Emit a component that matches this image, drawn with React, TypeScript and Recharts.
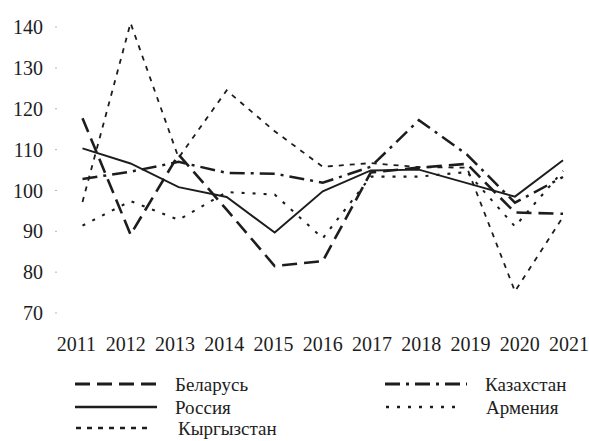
import { LineChart, Line, XAxis, YAxis, Legend } from "recharts";

const years = ["2011", "2012", "2013", "2014", "2015", "2016", "2017", "2018", "2019", "2020", "2021"];
const belarus = [117.7, 89.2, 108.8, 95.3, 81.5, 82.7, 104.4, 105.6, 106.5, 94.6, 94.3];
const russia = [110.3, 106.6, 100.8, 98.4, 89.7, 99.8, 104.9, 105.1, 101.8, 98.5, 107.4];
const kyrgyzstan = [97.2, 141, 108, 124.5, 114.5, 105.8, 106.7, 105.7, 105.6, 75.3, 93.5];
const kazakhstan = [102.8, 104.6, 107, 104.3, 104.1, 101.9, 105.8, 117.2, 108.8, 97, 103.3];
const armenia = [91.4, 97.4, 92.8, 99.6, 99.0, 88.3, 103.4, 103.4, 104.5, 91.2, 104.8];
const yTicks = [70, 80, 90, 100, 110, 120, 130, 140];

const FONT = '"Liberation Serif", "Times New Roman", serif';
const INK = "#1d1d1d";

const data = years.map((y, i) => ({
  year: y,
  belarus: belarus[i],
  russia: russia[i],
  kyrgyzstan: kyrgyzstan[i],
  kazakhstan: kazakhstan[i],
  armenia: armenia[i],
}));

const series = [
  { key: "belarus", name: "Беларусь", dash: "15 7", width: 2.6 },
  { key: "russia", name: "Россия", dash: undefined, width: 1.9 },
  { key: "kyrgyzstan", name: "Кыргызстан", dash: "5 6", width: 1.8 },
  { key: "kazakhstan", name: "Казахстан", dash: "15 6 3 6", width: 2.5 },
  { key: "armenia", name: "Армения", dash: "3 8", width: 2.1 },
];

// year labels sit a little wider apart than the points
const XTick = (props: any) => {
  const { x, y, payload } = props;
  const lx = 323 + (x - 323) * 1.025;
  return (
    <text x={lx} y={y} dy={30} textAnchor="middle" fontFamily={FONT} fontSize={20} fill={INK}>
      {payload.value}
    </text>
  );
};

const legendPos: Record<string, { x: number; y: number; len: number }> = {
  belarus: { x: 75, y: 39, len: 82 },
  russia: { x: 75, y: 62, len: 82 },
  kyrgyzstan: { x: 76, y: 83, len: 75 },
  kazakhstan: { x: 385, y: 39, len: 82 },
  armenia: { x: 386, y: 62, len: 77 },
};

const LegendBox = () => (
  <svg width={589} height={96} style={{ display: "block" }}>
    {series.map((s) => {
      const p = legendPos[s.key];
      return (
        <g key={s.key}>
          <line
            x1={p.x}
            x2={p.x + p.len}
            y1={p.y}
            y2={p.y}
            stroke={INK}
            strokeWidth={s.width + 0.6}
            strokeDasharray={s.dash}
          />
          <text
            x={s.key === "kyrgyzstan" ? 178 : p.x + 100}
            y={p.y}
            dominantBaseline="central"
            fontFamily={FONT}
            fontSize={19}
            fill={INK}
          >
            {s.name}
          </text>
        </g>
      );
    })}
  </svg>
);

export default function App() {
  return (
    <div style={{ position: "absolute", left: 0, top: 0, background: "#fff" }}>
      <LineChart width={589} height={441} data={data} margin={{ top: 23, right: 2, bottom: 0, left: 0 }}>
        <XAxis
          dataKey="year"
          axisLine={false}
          tickLine={false}
          height={32}
          interval={0}
          padding={{ left: 25.5, right: 24 }}
          tick={<XTick />}
        />
        <YAxis
          domain={[70, 140]}
          ticks={yTicks}
          width={57}
          axisLine={false}
          tickLine={{ stroke: "#b5b5b5" }}
          tickSize={2}
          tickMargin={12}
          tick={{ fontFamily: FONT, fontSize: 20, fill: INK }}
        />
        <Legend
          verticalAlign="bottom"
          content={<LegendBox />}
          wrapperStyle={{ left: 0, width: 589, height: 96 }}
        />
        {series.map((s) => (
          <Line
            key={s.key}
            type="linear"
            dataKey={s.key}
            name={s.name}
            stroke={INK}
            strokeWidth={s.width}
            strokeDasharray={s.dash}
            dot={false}
            activeDot={false}
            isAnimationActive={false}
          />
        ))}
      </LineChart>
    </div>
  );
}
